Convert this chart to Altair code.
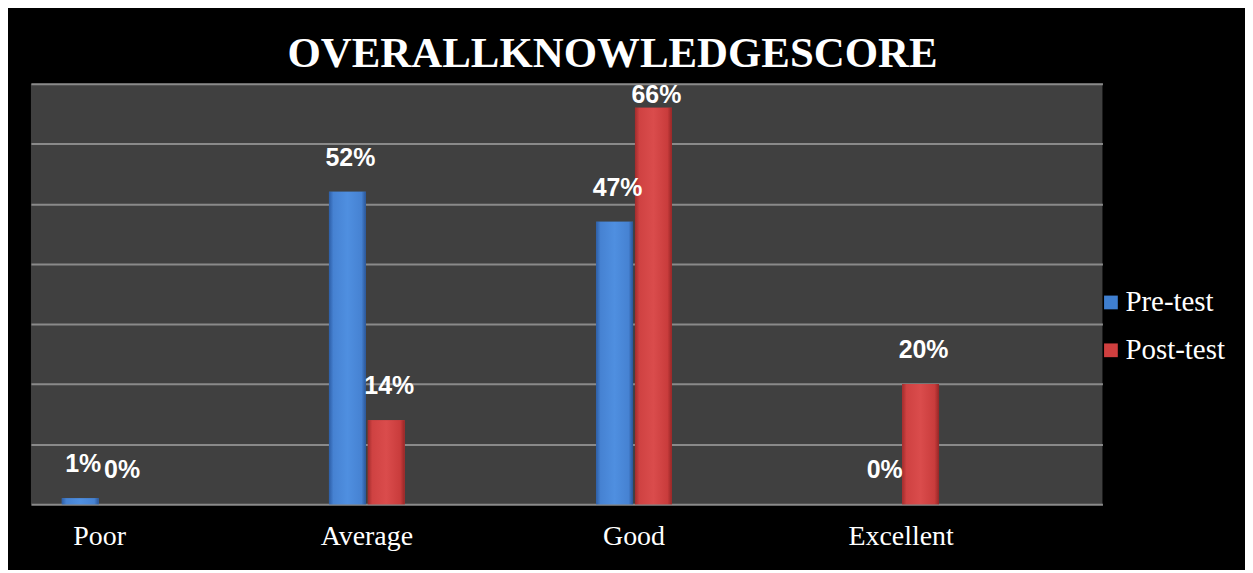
import altair as alt
import pandas as pd

categories = ["Poor", "Average", "Good", "Excellent"]
series = ["Pre-test", "Post-test"]
pre_test = [1, 52, 47, 0]
post_test = [0, 14, 66, 20]

rows = []
for i, c in enumerate(categories):
    rows.append({"category": c, "series": "Pre-test", "value": pre_test[i]})
    rows.append({"category": c, "series": "Post-test", "value": post_test[i]})
df = pd.DataFrame(rows)

x_enc = alt.X("category:N", sort=categories,
              scale=alt.Scale(paddingInner=0.7164, paddingOuter=0.3637, align=0.159),
              axis=alt.Axis(title=None, domain=False, ticks=False, labelAngle=0,
                            labelFont="Liberation Serif", labelFontSize=28,
                            labelColor="white", labelPadding=18, grid=False))
xo_enc = alt.XOffset("series:N", sort=series,
                     scale=alt.Scale(domain=series, paddingInner=0.05, paddingOuter=0))
y_enc = alt.Y("value:Q", scale=alt.Scale(domain=[0, 70], nice=False),
              axis=alt.Axis(title=None, labels=False, ticks=False, domain=False,
                            values=[0, 10, 20, 30, 40, 50, 60, 70],
                            grid=True, gridColor="#8a8a8a", gridWidth=2))

base = alt.Chart(df)

legend_bars = base.mark_bar().encode(
    x=x_enc, xOffset=xo_enc, y=y_enc,
    color=alt.Color("series:N", sort=series,
                    scale=alt.Scale(domain=series, range=["#3f7fd0", "#cf3f3f"]),
                    legend=alt.Legend(title=None, orient="none", legendX=1069, legendY=205,
                                      padding=0,
                                      symbolType="square", symbolSize=190,
                                      symbolStrokeWidth=0,
                                      labelFont="Liberation Serif", labelFontSize=29,
                                      labelColor="white", labelOffset=0, rowPadding=18)),
)

blue_grad = alt.Gradient(gradient="linear", x1=0, x2=1, y1=0, y2=0, stops=[
    alt.GradientStop(offset=0, color="#2d5ea6"),
    alt.GradientStop(offset=0.12, color="#4682d2"),
    alt.GradientStop(offset=0.5, color="#4f8fe0"),
    alt.GradientStop(offset=0.88, color="#4682d2"),
    alt.GradientStop(offset=1, color="#2a5596"),
])
red_grad = alt.Gradient(gradient="linear", x1=0, x2=1, y1=0, y2=0, stops=[
    alt.GradientStop(offset=0, color="#a22c2c"),
    alt.GradientStop(offset=0.12, color="#cf4242"),
    alt.GradientStop(offset=0.5, color="#da4c4c"),
    alt.GradientStop(offset=0.88, color="#c93c3c"),
    alt.GradientStop(offset=1, color="#952626"),
])

pre_bars = base.transform_filter(alt.datum.series == "Pre-test").mark_bar(
    fill=blue_grad).encode(x=x_enc, xOffset=xo_enc, y=y_enc)
post_bars = base.transform_filter(alt.datum.series == "Post-test").mark_bar(
    fill=red_grad).encode(x=x_enc, xOffset=xo_enc, y=y_enc)

labels = base.transform_calculate(
    label_y="min(datum.value + 3.5, 66)",
    label=alt.expr.toString(alt.datum.value) + "%",
).mark_text(font="Liberation Sans", fontWeight="bold", fontSize=25, color="white",
            baseline="bottom", dx=3).encode(
    x=x_enc, xOffset=xo_enc,
    y=alt.Y("label_y:Q", scale=alt.Scale(domain=[0, 70], nice=False)),
    text="label:N",
)

chart = alt.layer(legend_bars, pre_bars, post_bars, labels).properties(
    width=1075, height=422,
    title=alt.TitleParams("OVERALLKNOWLEDGESCORE", font="Liberation Serif", fontSize=43,
                          fontWeight="bold", color="white", anchor="middle",
                          baseline="alphabetic", offset=16, dx=46, dy=43),
    background="black",
    padding={"left": 23, "top": 75, "right": 143, "bottom": 65},
    autosize=alt.AutoSizeParams(type="none"),
).configure_view(fill="#404040", stroke=None)

chart.save("out.html", embed_options={"renderer": "svg", "actions": False})
